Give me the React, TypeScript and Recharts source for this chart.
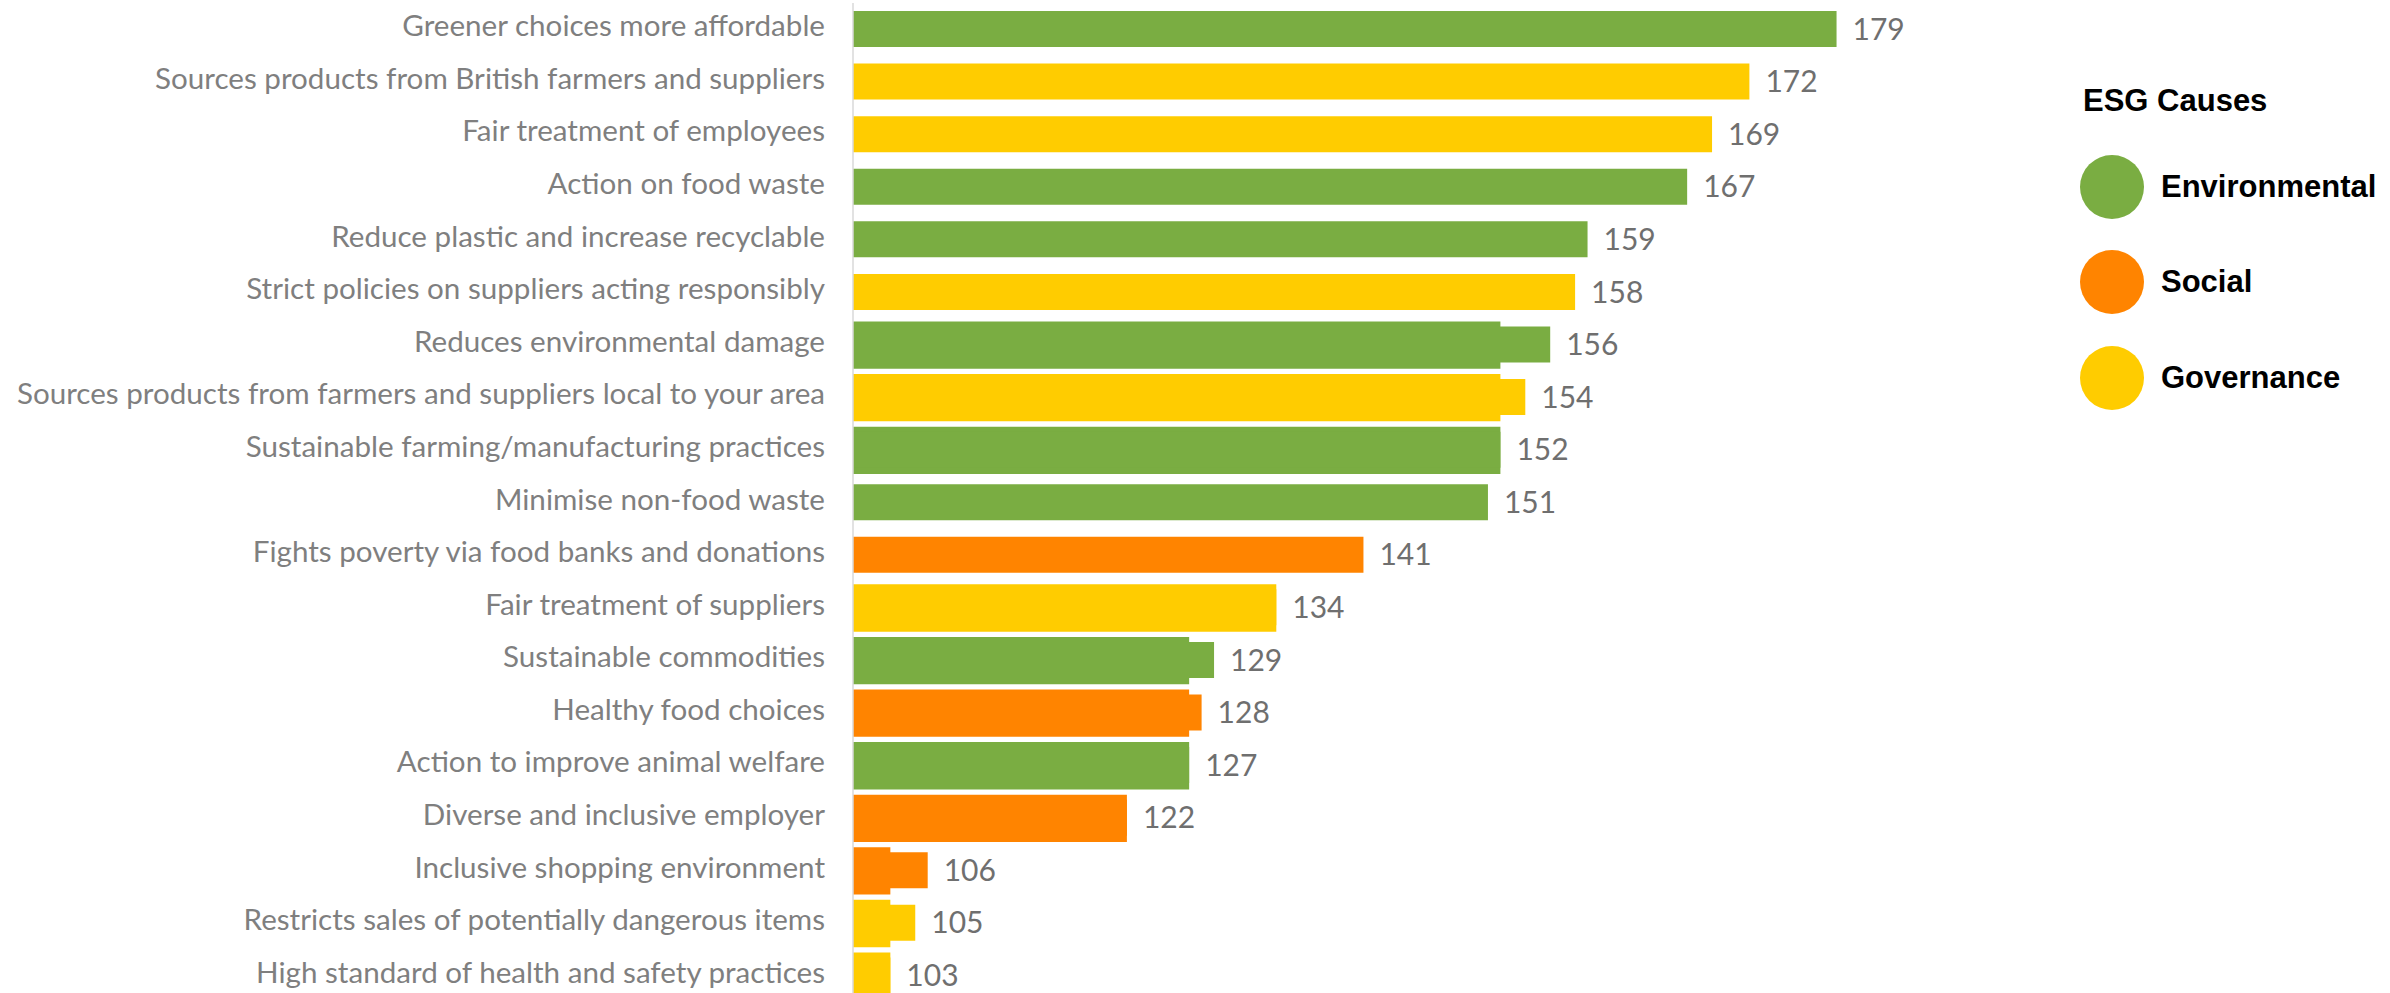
import { BarChart, Bar, XAxis, YAxis, Cell, LabelList, Legend } from "recharts";

// ESG cause ranking (index score), read top to bottom
const causes = [
  "Greener choices more affordable",
  "Sources products from British farmers and suppliers",
  "Fair treatment of employees",
  "Action on food waste",
  "Reduce plastic and increase recyclable",
  "Strict policies on suppliers acting responsibly",
  "Reduces environmental damage",
  "Sources products from farmers and suppliers local to your area",
  "Sustainable farming/manufacturing practices",
  "Minimise non-food waste",
  "Fights poverty via food banks and donations",
  "Fair treatment of suppliers",
  "Sustainable commodities",
  "Healthy food choices",
  "Action to improve animal welfare",
  "Diverse and inclusive employer",
  "Inclusive shopping environment",
  "Restricts sales of potentially dangerous items",
  "High standard of health and safety practices",
];

const scores = [179, 172, 169, 167, 159, 158, 156, 154, 152, 151, 141, 134, 129, 128, 127, 122, 106, 105, 103];

const pillars = [
  "Environmental", "Governance", "Governance", "Environmental", "Environmental",
  "Governance", "Environmental", "Governance", "Environmental", "Environmental",
  "Social", "Governance", "Environmental", "Social", "Environmental",
  "Social", "Social", "Governance", "Governance",
];

// the full-height blocks that sit behind some of the bars in the original
const bandValues = [null, null, null, null, null, null, 152, 152, 152, null, null, 134, 127, 127, 127, 122, 103, 103, 103];

const legendNames = ["Environmental", "Social", "Governance"];
const colors: Record<string, string> = {
  Environmental: "#7aad42",
  Social: "#ff8400",
  Governance: "#ffcc00",
};

const rows = causes.map((cause, i) => ({
  cause,
  score: scores[i],
  band: bandValues[i],
  pillar: pillars[i],
}));

const labelFont = "Lato, 'Liberation Sans', sans-serif";

function CauseTick(props: any) {
  const { x, y, payload } = props;
  return (
    <text x={x} y={y} dy={7} textAnchor="end" fill="#7f7f7f" fontSize={29.6} fontFamily={labelFont}>
      {payload.value}
    </text>
  );
}

function EsgLegend() {
  return (
    <div style={{ fontFamily: "'Liberation Sans', Arial, sans-serif", fontWeight: 700, color: "#000" }}>
      <div style={{ fontSize: 31, marginLeft: 3, marginBottom: 20 }}>ESG Causes</div>
      {legendNames.map((name) => (
        <div key={name} style={{ display: "flex", alignItems: "center", height: 95.5 }}>
          <span
            style={{
              display: "inline-block",
              width: 64,
              height: 64,
              borderRadius: "50%",
              background: colors[name],
              marginRight: 17,
            }}
          />
          <span style={{ fontSize: 31 }}>{name}</span>
        </div>
      ))}
    </div>
  );
}

export default function App() {
  return (
    <div style={{ position: "absolute", left: 0, top: 0, width: 2390, height: 993, overflow: "hidden", background: "#fff" }}>
      <BarChart
        layout="vertical"
        width={2390}
        height={1006}
        data={rows}
        margin={{ top: 3, right: 292, bottom: 4, left: 0 }}
      >
        <XAxis type="number" domain={[100, 200]} hide />
        <YAxis
          yAxisId="main"
          type="category"
          dataKey="cause"
          width={853}
          interval={0}
          tickLine={false}
          tickSize={0}
          tickMargin={28}
          axisLine={{ stroke: "#d9d9d9", strokeWidth: 1.5 }}
          tick={<CauseTick />}
        />
        <YAxis yAxisId="band" type="category" dataKey="cause" width={0} hide />
        <Bar yAxisId="band" dataKey="band" barSize={53} isAnimationActive={false}>
          {rows.map((r, i) => (
            <Cell key={i} fill={colors[r.pillar]} />
          ))}
        </Bar>
        <Bar yAxisId="main" dataKey="score" barSize={36} isAnimationActive={false}>
          {rows.map((r, i) => (
            <Cell key={i} fill={colors[r.pillar]} />
          ))}
          <LabelList
            dataKey="score"
            position="right"
            offset={16}
            fill="#6f6f6f"
            fontSize={30}
            fontFamily={labelFont}
          />
        </Bar>
        <Legend
          layout="vertical"
          align="center"
          verticalAlign="middle"
          wrapperStyle={{ left: 2080, top: 83, width: 300 }}
          content={() => <EsgLegend />}
        />
      </BarChart>
    </div>
  );
}
